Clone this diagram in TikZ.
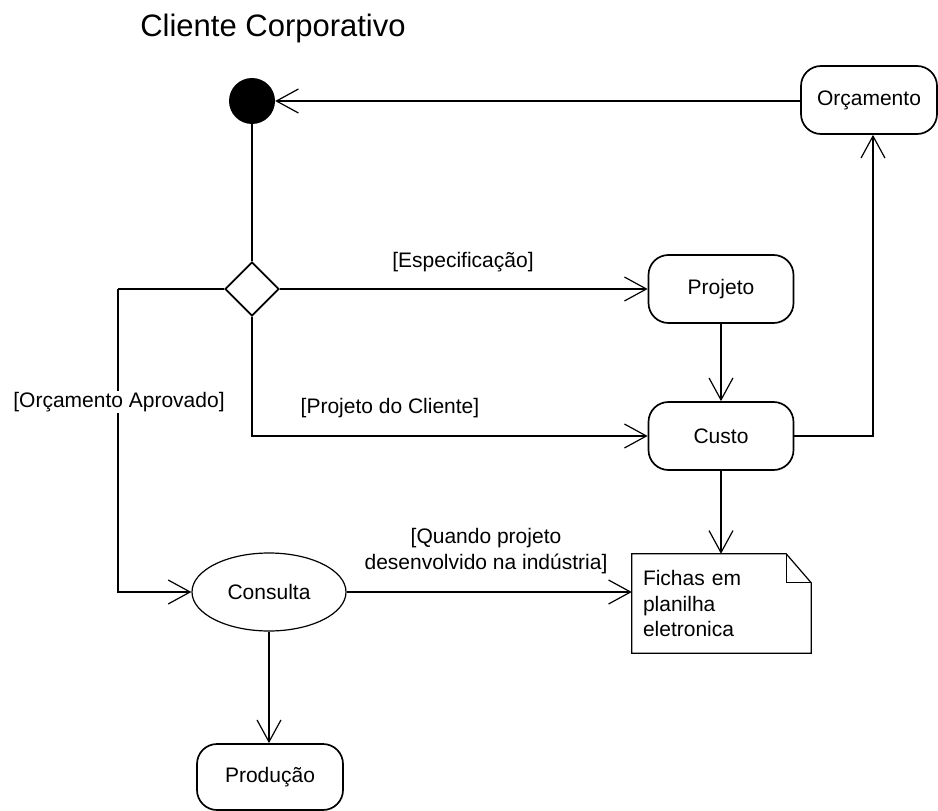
\documentclass[tikz,border=0pt]{standalone}
\usepackage{fontspec}
\setmainfont{Liberation Sans}
\usetikzlibrary{arrows.meta,shapes.geometric,calc}

\begin{document}
\begin{tikzpicture}[x=1pt,y=-1pt,
  base/.style={font=\fontsize{21}{25.5}\selectfont},
  activity/.style={base, draw, rounded corners=20pt, line width=1.7pt,
    minimum width=145pt, minimum height=68pt, inner sep=0pt},
  startnode/.style={circle, fill=black, minimum size=46pt, inner sep=0pt},
  decision/.style={diamond, draw, line width=1.7pt, minimum width=54pt,
    minimum height=54pt, inner sep=0pt, aspect=1},
  usecase/.style={base, ellipse, draw, line width=1.2pt, minimum width=154pt,
    minimum height=78pt, inner sep=0pt},
  notebox/.style={base, text width=157pt, inner sep=11pt, align=left,
    minimum height=99pt},
  guard/.style={base, inner sep=1pt},
  flow/.style={line width=1.2pt},
  arr/.style={flow, -{Straight Barb[length=22pt,width=24pt,line width=1.2pt]}}
]
\useasboundingbox (0,0) rectangle (938,811);

% title
\node[font=\fontsize{31}{36}\selectfont] (title) at (273,28) {Cliente Corporativo};

% nodes
\node[startnode] (start) at (252,101) {};
\node[activity, minimum width=136pt] (orc) at (869,100) {Orçamento};
\node[decision] (dec) at (252,289) {};
\node[activity] (proj) at (721,289) {Projeto};
\node[activity] (custo) at (721,436) {Custo};
\node[usecase] (cons) at (269,592) {Consulta};
\node[activity, minimum width=146pt, minimum height=66pt] (prod) at (270,777) {Produção};
\node[notebox] (note) at (721.5,603.5) {Fichas em\\planilha\\eletronica};

% note outline with folded corner
\draw[line width=1.2pt]
  (note.north west) -- ($(note.north east)+(-25,0)$)
  -- ($(note.north east)+(0,29)$) -- (note.south east)
  -- (note.south west) -- cycle;
\draw[line width=1.2pt]
  ($(note.north east)+(-25,0)$) -- ($(note.north east)+(-25,29)$)
  -- ($(note.north east)+(0,29)$);

% bend point of the left branch
\coordinate (lft) at (118,289);

% connectors
\draw[arr] (orc.west |- start) -- (start);
\draw[flow] (start) -- (dec);
\draw[arr] (dec.east) -- (proj.west);
\draw[arr] (dec.south) |- (custo.west);
\draw[flow] (dec.west) -- (lft);
\draw[arr] (lft) |- (cons.west);
\draw[arr] (proj) -- (custo);
\draw[arr] (custo.east) -| ([xshift=4pt]orc.south);
\draw[arr] (custo.south) -- (custo.south |- note.north);
\draw[arr] (cons.east) -- (cons.east -| note.west);
\draw[arr] (cons.south) -- (cons.south |- prod.north);

% guard labels
\node[guard] (g1) at (463,262) {[Especificação]};
\node[guard] (g2) at (390,408) {[Projeto do Cliente]};
\node[guard, fill=white] (g3) at (119,402) {[Orçamento Aprovado]};
\node[guard, align=center] (g4) at (486,551) {[Quando projeto\\desenvolvido na indústria]};
\end{tikzpicture}
\end{document}
